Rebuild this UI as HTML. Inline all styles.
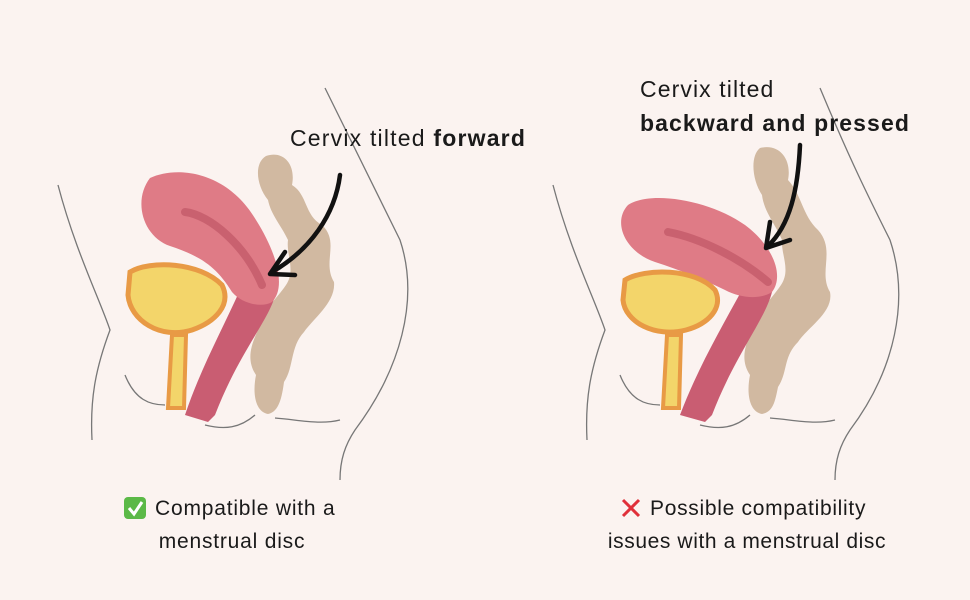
<!DOCTYPE html>
<html><head><meta charset="utf-8"><style>
body{margin:0;background:#fbf3f0;}
svg{display:block}
text{font-family:"Liberation Sans",sans-serif;fill:#1a1a1a}
</style></head><body>
<svg width="970" height="600" viewBox="0 0 970 600">
<rect width="970" height="600" fill="#fbf3f0"/>
<g fill="none" stroke="#777" stroke-width="1.3">
<path d="M58,185 C75,250 100,300 110,330 C95,370 90,400 92,440"/>
<path d="M325,88 C360,160 380,200 400,240 C420,300 400,370 355,430 C345,445 340,460 340,480"/>
<path d="M125,375 C135,400 150,405 165,405"/>
<path d="M205,425 C225,430 240,428 255,415"/>
<path d="M275,418 C300,420 320,425 340,420"/>
<path d="M553,185 C570,250 595,300 605,330 C590,370 585,400 587,440"/>
<path d="M820,88 C850,160 870,200 890,240 C910,300 895,370 850,430 C840,445 835,460 835,480"/>
<path d="M620,375 C630,400 645,405 660,405"/>
<path d="M700,425 C720,430 735,428 750,415"/>
<path d="M770,418 C795,420 815,425 835,420"/>
</g>
<!-- LEFT -->
<path d="M266,156 C284,150 296,165 292,185 C308,195 304,215 322,225 C340,242 322,262 334,282 C336,302 314,318 304,332 C290,347 294,367 284,382 C282,397 279,412 268,414 C256,412 252,395 256,375 C246,360 251,345 258,330 C262,310 276,300 286,285 C296,270 286,255 288,240 C281,225 271,215 268,200 C256,185 254,163 266,156Z" fill="#d1b9a1"/>
<path d="M240,290 L276,292 C270,320 240,350 215,415 L208,422 L185,415 C200,370 222,330 240,290Z" fill="#c95d72"/>
<path d="M150,178 C178,165 228,172 256,220 C278,255 286,288 272,302 C262,308 242,304 232,292 C216,266 200,256 170,246 C142,236 133,200 150,178Z" fill="#df7b86"/>
<path d="M185,212 C210,215 245,245 262,285" stroke="#c9616f" stroke-width="8" fill="none" stroke-linecap="round"/>
<path d="M130,272 C150,260 200,262 222,285 C232,305 215,322 192,330 C160,340 130,320 128,295Z" fill="#f3d56a" stroke="#e89a45" stroke-width="5"/>
<path d="M172,335 L186,335 L184,408 L168,408Z" fill="#f3d56a" stroke="#e89a45" stroke-width="4"/>
<path d="M340,175 C335,215 310,250 272,272" stroke="#111" stroke-width="4.5" fill="none" stroke-linecap="round"/>
<path d="M285,252 L270,274 L295,275" stroke="#111" stroke-width="4.5" fill="none" stroke-linecap="round" stroke-linejoin="round"/>
<text x="290" y="146" font-size="23" letter-spacing="1.2">Cervix tilted <tspan font-weight="bold">forward</tspan></text>
<!-- RIGHT -->
<path d="M760,148 C780,143 792,160 788,180 C802,195 802,215 818,230 C836,250 818,272 830,292 C834,312 808,327 798,342 C783,357 788,372 778,387 C775,402 773,412 762,414 C750,412 746,395 750,375 C740,360 745,345 752,330 C758,310 771,300 781,285 C791,270 781,255 782,240 C776,225 764,212 762,195 C752,180 750,156 760,148Z" fill="#d1b9a1"/>
<path d="M742,290 L772,292 C765,320 735,355 712,415 L705,422 L680,415 C697,370 720,330 742,290Z" fill="#c95d72"/>
<path d="M628,205 C650,190 710,200 745,225 C772,245 785,275 772,292 C760,300 740,298 725,290 C700,278 680,270 655,262 C625,252 612,222 628,205Z" fill="#df7b86"/>
<path d="M668,232 C700,238 740,258 768,282" stroke="#c9616f" stroke-width="8" fill="none" stroke-linecap="round"/>
<path d="M625,280 C645,268 695,268 715,290 C724,308 708,324 686,330 C655,338 625,322 623,300Z" fill="#f3d56a" stroke="#e89a45" stroke-width="5"/>
<path d="M667,335 L681,335 L679,408 L663,408Z" fill="#f3d56a" stroke="#e89a45" stroke-width="4"/>
<path d="M800,145 C798,190 790,225 768,246" stroke="#111" stroke-width="4.5" fill="none" stroke-linecap="round"/>
<path d="M770,222 L766,248 L790,240" stroke="#111" stroke-width="4.5" fill="none" stroke-linecap="round" stroke-linejoin="round"/>
<text x="640" y="97" font-size="23" letter-spacing="1.1">Cervix tilted</text>
<text x="640" y="131" font-size="23" font-weight="bold" letter-spacing="1.1">backward and pressed</text>
<!-- captions -->
<rect x="124" y="497" width="22" height="22" rx="4" fill="#5bb947"/>
<path d="M129,508 L134,514 L142,502" stroke="#fff" stroke-width="3" fill="none"/>
<text x="155" y="515" font-size="21" letter-spacing="0.8">Compatible with a</text>
<text x="232" y="548" font-size="21" letter-spacing="0.8" text-anchor="middle">menstrual disc</text>
<path d="M623,500 L639,516 M639,500 L623,516" stroke="#e0303a" stroke-width="3"/>
<text x="650" y="515" font-size="21" letter-spacing="0.7">Possible compatibility</text>
<text x="747" y="548" font-size="21" letter-spacing="0.6" text-anchor="middle">issues with a menstrual disc</text>
</svg>
</body></html>
